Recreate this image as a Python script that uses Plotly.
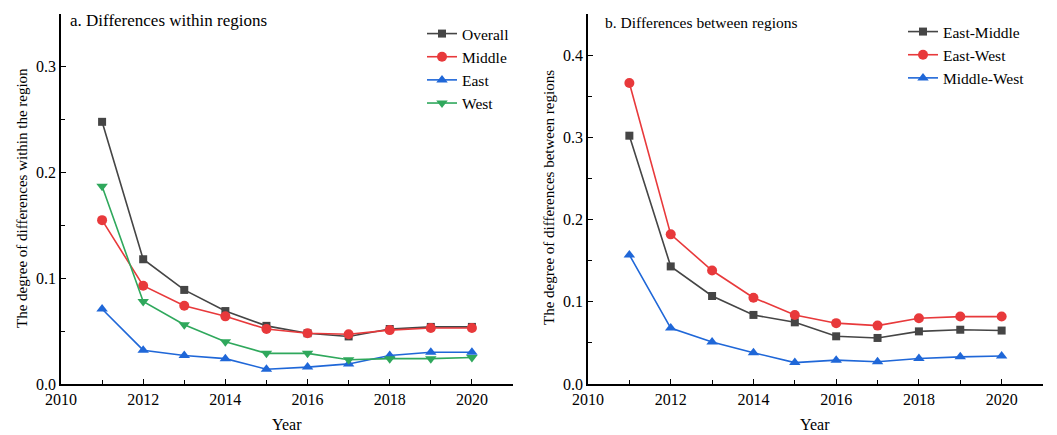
import plotly.graph_objects as go

years = [2011, 2012, 2013, 2014, 2015, 2016, 2017, 2018, 2019, 2020]

# Panel a: differences within regions
overall = [0.248, 0.118, 0.089, 0.069, 0.055, 0.048, 0.045, 0.052, 0.054, 0.054]
middle = [0.155, 0.093, 0.074, 0.064, 0.052, 0.048, 0.047, 0.051, 0.053, 0.053]
east = [0.071, 0.032, 0.027, 0.024, 0.014, 0.016, 0.019, 0.027, 0.030, 0.030]
west = [0.187, 0.078, 0.056, 0.040, 0.029, 0.029, 0.023, 0.024, 0.024, 0.025]

# Panel b: differences between regions
east_middle = [0.302, 0.143, 0.107, 0.084, 0.075, 0.058, 0.056, 0.064, 0.066, 0.065]
east_west = [0.366, 0.182, 0.138, 0.105, 0.084, 0.074, 0.071, 0.080, 0.082, 0.082]
middle_west = [0.157, 0.068, 0.051, 0.038, 0.026, 0.029, 0.027, 0.031, 0.033, 0.034]

GRAY = "#454545"
RED = "#e8393b"
BLUE = "#1f67d8"
GREEN = "#2fa85c"
FONT = "Liberation Serif"

fig = go.Figure()


def add(x, y, name, color, symbol, size, xa, ya, legend):
    fig.add_trace(go.Scatter(
        x=x, y=y, name=name, mode="lines+markers",
        line=dict(color=color, width=1.6),
        marker=dict(color=color, symbol=symbol, size=size),
        xaxis=xa, yaxis=ya, legend=legend,
    ))


add(years, overall, "Overall", GRAY, "square", 8, "x", "y", "legend")
add(years, middle, "Middle", RED, "circle", 10, "x", "y", "legend")
add(years, east, "East", BLUE, "triangle-up", 10, "x", "y", "legend")
add(years, west, "West", GREEN, "triangle-down", 10, "x", "y", "legend")

add(years, east_middle, "East-Middle", GRAY, "square", 8, "x2", "y2", "legend2")
add(years, east_west, "East-West", RED, "circle", 10, "x2", "y2", "legend2")
add(years, middle_west, "Middle-West", BLUE, "triangle-up", 10, "x2", "y2", "legend2")

xcommon = dict(
    range=[2010, 2021], dtick=2, tick0=2010, ticks="inside", ticklen=5,
    tickwidth=1.2, tickcolor="black", showline=True, linecolor="black",
    linewidth=1.5, showgrid=False, zeroline=False, automargin=False,
    tickfont=dict(family=FONT, size=16, color="black"),
    minor=dict(dtick=1, tick0=2010, ticks="inside", ticklen=4, tickcolor="black",
               showgrid=False),
)
ycommon = dict(
    dtick=0.1, tick0=0, ticks="inside", ticklen=5, tickwidth=1.2,
    tickcolor="black", showline=True, linecolor="black", linewidth=1.5,
    showgrid=False, zeroline=False, tickformat=".1f", automargin=False,
    tickfont=dict(family=FONT, size=16, color="black"),
    minor=dict(dtick=0.05, tick0=0, ticks="inside", ticklen=4, tickcolor="black",
               showgrid=False),
)

ydom = [51 / 435, 421 / 435]
fig.update_layout(
    template="none",
    width=1057, height=435,
    margin=dict(l=0, r=0, t=0, b=0),
    paper_bgcolor="white", plot_bgcolor="white",
    font=dict(family=FONT, size=15, color="black"),
    xaxis=dict(domain=[61 / 1057, 513 / 1057], anchor="y", **xcommon),
    yaxis=dict(domain=ydom, anchor="x", range=[0, 0.35], **ycommon),
    xaxis2=dict(domain=[588 / 1057, 1043 / 1057], anchor="y2", **xcommon),
    yaxis2=dict(domain=ydom, anchor="x2", range=[0, 0.45], **ycommon),
    legend=dict(x=422 / 1057, y=1 - 17 / 435, xanchor="left", yanchor="top",
                bgcolor="rgba(0,0,0,0)", font=dict(family=FONT, size=15.5, color="black"),
                tracegroupgap=0, itemwidth=30, borderwidth=0),
    legend2=dict(x=903 / 1057, y=1 - 15 / 435, xanchor="left", yanchor="top",
                 bgcolor="rgba(0,0,0,0)", font=dict(family=FONT, size=15.5, color="black"),
                 tracegroupgap=0, itemwidth=30, borderwidth=0),
    showlegend=True,
)

annos = [
    dict(text="a. Differences within regions", x=68, y=21, xanchor="left", size=17),
    dict(text="b. Differences between regions", x=603, y=23, xanchor="left", size=15.5),
    dict(text="Year", x=287, y=424, xanchor="center", size=16),
    dict(text="Year", x=815, y=424, xanchor="center", size=16),
]
for a in annos:
    fig.add_annotation(
        text=a["text"], x=a["x"] / 1057, y=1 - a["y"] / 435, xref="paper", yref="paper",
        xanchor=a["xanchor"], yanchor="middle", showarrow=False,
        font=dict(family=FONT, size=a["size"], color="black"),
    )

fig.add_annotation(
    text="The degree of differences within the region", x=22 / 1057, y=1 - 198 / 435,
    xref="paper", yref="paper", textangle=-90, showarrow=False,
    xanchor="center", yanchor="middle", font=dict(family=FONT, size=15, color="black"),
)
fig.add_annotation(
    text="The degree of differences between regions", x=549 / 1057, y=1 - 198 / 435,
    xref="paper", yref="paper", textangle=-90, showarrow=False,
    xanchor="center", yanchor="middle", font=dict(family=FONT, size=15, color="black"),
)

fig.write_html(
    "out.html",
    config={"displayModeBar": False},
    post_script="document.body.style.margin='0px';document.body.style.overflow='hidden';",
)
